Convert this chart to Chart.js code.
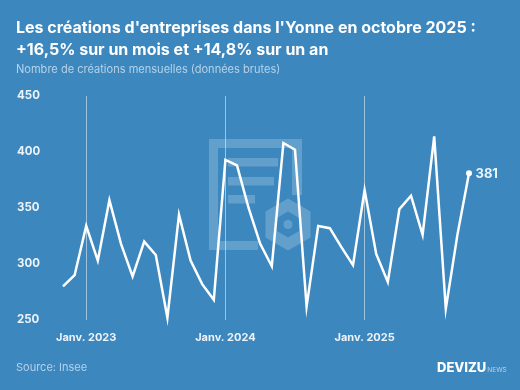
<!DOCTYPE html>
<html>
<head>
<meta charset="utf-8">
<script src="https://cdn.jsdelivr.net/npm/chart.js@4"></script>
<style>
  html, body { margin: 0; padding: 0; background: #3d87bf; }
  #wrap { position: relative; width: 520px; height: 390px; overflow: hidden; font-family: Inter, sans-serif; }
  #chart { position: absolute; left: 0; top: 0; }
  #title { position: absolute; left: 16px; top: 16px; color: #fff; font-weight: 700; font-size: 16px; line-height: 22px; white-space: nowrap; }
  #sub { position: absolute; left: 16px; top: 61.5px; color: #b5d2e8; font-size: 11.05px; white-space: nowrap; }
  #source { position: absolute; left: 16px; top: 359.5px; color: #b5d2e8; font-size: 11px; }
  #logo { position: absolute; left: 437px; top: 359px; color: #fff; font-weight: 800; font-size: 13px; white-space: nowrap; }
  #logo span { font-weight: 400; font-size: 6.5px; color: #b5d2e8; margin-left: 1px; }
</style>
</head>
<body>
<div id="wrap">
  <canvas id="chart" width="520" height="390"></canvas>
  <div id="title">Les créations d'entreprises dans l'Yonne en octobre 2025 :<br>+16,5% sur un mois et +14,8% sur un an</div>
  <div id="sub">Nombre de créations mensuelles (données brutes)</div>
  <div id="source">Source: Insee</div>
  <div id="logo">DEVIZU<span>NEWS</span></div>
</div>
<script>
var months = [
  "Nov. 2022", "Déc. 2022",
  "Janv. 2023", "Févr. 2023", "Mars 2023", "Avr. 2023", "Mai 2023", "Juin 2023", "Juil. 2023", "Août 2023", "Sept. 2023", "Oct. 2023", "Nov. 2023", "Déc. 2023",
  "Janv. 2024", "Févr. 2024", "Mars 2024", "Avr. 2024", "Mai 2024", "Juin 2024", "Juil. 2024", "Août 2024", "Sept. 2024", "Oct. 2024", "Nov. 2024", "Déc. 2024",
  "Janv. 2025", "Févr. 2025", "Mars 2025", "Avr. 2025", "Mai 2025", "Juin 2025", "Juil. 2025", "Août 2025", "Sept. 2025", "Oct. 2025"
];
var creations = [
  280, 290,
  334, 303, 357, 318, 289, 320, 308, 252, 344, 303, 282, 268,
  393, 388, 350, 318, 298, 408, 402, 262, 334, 332, 315, 299,
  366, 309, 284, 349, 361, 326, 414, 260, 326, 381
];
var yTicks = [250, 300, 350, 400, 450];

function isJanuary(label) {
  return label.indexOf("Janv.") === 0;
}

// filigrane derriere la courbe
var watermark = {
  id: 'watermark',
  beforeDatasetsDraw: function (chart) {
    var ctx = chart.ctx;
    ctx.save();
    ctx.fillStyle = 'rgba(255,255,255,0.2)';
    ctx.beginPath();
    ctx.moveTo(209, 139); ctx.lineTo(302, 139); ctx.lineTo(302, 195); ctx.lineTo(292, 195);
    ctx.lineTo(292, 148); ctx.lineTo(218, 148); ctx.lineTo(218, 241); ctx.lineTo(258, 241);
    ctx.lineTo(258, 250); ctx.lineTo(209, 250); ctx.closePath();
    ctx.fill();
    ctx.fillRect(228, 158, 50, 8.5);
    ctx.fillRect(228, 177, 46, 8.5);
    ctx.fillRect(228, 195, 27, 8.5);
    // hexagone
    var cx = 288, cy = 224.5;
    function hex(r) {
      for (var i = 0; i < 6; i++) {
        var a = Math.PI / 6 + i * Math.PI / 3;
        var x = cx + r * Math.cos(a), y = cy + r * Math.sin(a);
        if (i === 0) ctx.moveTo(x, y); else ctx.lineTo(x, y);
      }
      ctx.closePath();
    }
    ctx.beginPath();
    hex(26);
    hex(13);
    ctx.fill('evenodd');
    ctx.beginPath();
    ctx.arc(cx, cy, 4.5, 0, Math.PI * 2);
    ctx.fill();
    ctx.restore();
  }
};

// valeur du dernier point
var lastLabel = {
  id: 'lastLabel',
  afterDatasetsDraw: function (chart) {
    var pts = chart.getDatasetMeta(0).data;
    var p = pts[pts.length - 1];
    var ctx = chart.ctx;
    ctx.save();
    ctx.fillStyle = '#ecf3f9';
    ctx.font = '700 13px Inter, sans-serif';
    ctx.textBaseline = 'middle';
    ctx.fillText(creations[creations.length - 1], p.x + 6.5, p.y + 1);
    ctx.restore();
  }
};

new Chart(document.getElementById('chart'), {
  type: 'line',
  data: {
    labels: months,
    datasets: [{
      data: creations,
      borderColor: '#ffffff',
      borderWidth: 2.5,
      borderJoinStyle: 'miter',
      tension: 0,
      clip: false,
      pointRadius: function (c) { return c.dataIndex === creations.length - 1 ? 3 : 0; },
      pointBackgroundColor: '#ffffff',
      pointBorderWidth: 0
    }]
  },
  plugins: [watermark, lastLabel],
  options: {
    responsive: false,
    animation: false,
    layout: { padding: { left: 17, right: 51, top: 96, bottom: 48 } },
    plugins: { legend: { display: false }, tooltip: { enabled: false } },
    scales: {
      x: {
        type: 'category',
        offset: false,
        afterFit: function (s) { s.height = 22; },
        border: { display: false },
        grid: {
          drawTicks: false,
          lineWidth: 1,
          color: function (c) {
            return c.tick && isJanuary(c.tick.label || '') ? 'rgba(255,255,255,0.5)' : 'rgba(255,255,255,0)';
          }
        },
        ticks: {
          autoSkip: false,
          maxRotation: 0,
          padding: 11,
          color: '#ecf3f9',
          font: { family: 'Inter, sans-serif', size: 11, weight: '700' },
          callback: function (v, i) { return isJanuary(months[i]) ? months[i] : ''; }
        }
      },
      y: {
        min: 250,
        max: 450,
        afterFit: function (s) { s.width = 46; },
        afterBuildTicks: function (s) { s.ticks = yTicks.map(function (v) { return { value: v }; }); },
        border: { display: false },
        grid: { display: false },
        ticks: {
          crossAlign: 'far',
          padding: 0,
          color: '#ecf3f9',
          font: { family: 'Inter, sans-serif', size: 11.5, weight: '700' }
        }
      }
    }
  }
});
</script>
</body>
</html>
